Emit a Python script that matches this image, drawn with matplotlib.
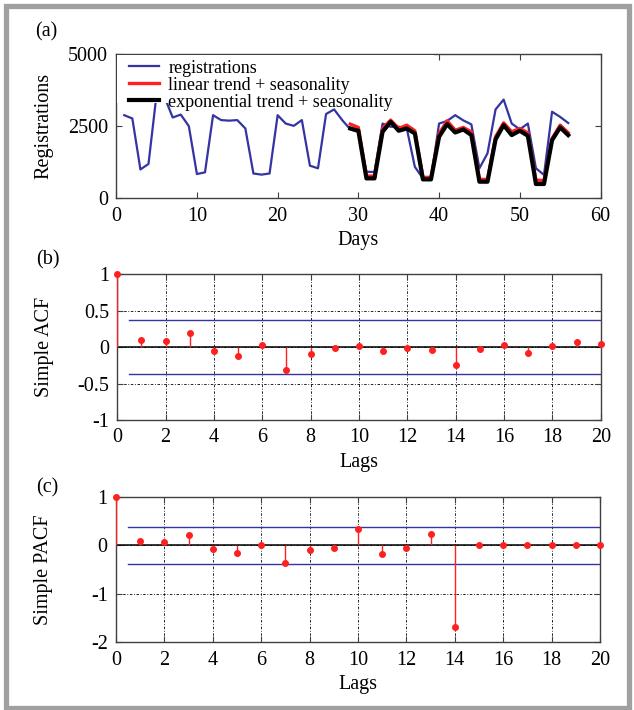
import numpy as np
import matplotlib
matplotlib.use("Agg")
import matplotlib.pyplot as plt
from matplotlib.patches import Rectangle

plt.rcParams['font.family'] = ['Liberation Serif', 'DejaVu Serif']
plt.rcParams['axes.unicode_minus'] = False

# ---------------- data ----------------
days = np.arange(1, 57)
registrations = [2880, 2765, 1000, 1190, 3600, 3500, 2800, 2900, 2500, 840,
                 900, 2880, 2710, 2690, 2710, 2420, 860, 820, 860, 2880,
                 2590, 2510, 2710, 1130, 1040, 2920, 3080, 2710, 2390, 2300,
                 920, 910, 2590, 2480, 2480, 2420, 1090, 690, 690, 2590,
                 2680, 2880, 2700, 2560, 1040, 1560, 3080, 3420, 2590, 2390,
                 2590, 1040, 810, 3000, 2820, 2610]
fc_days = np.arange(29, 57)
linear_fc = [2570, 2455, 770, 770, 2420, 2710, 2420, 2535, 2340, 725,
             725, 2245, 2685, 2360, 2455, 2305, 655, 655, 2130, 2615,
             2305, 2420, 2270, 635, 610, 2075, 2535, 2270]
exp_fc = [2420, 2340, 690, 690, 2305, 2650, 2340, 2420, 2245, 655,
          655, 2130, 2570, 2280, 2385, 2190, 575, 575, 2040, 2535,
          2190, 2340, 2165, 495, 495, 2015, 2455, 2190]

lags = np.arange(0, 21)
acf_vals = [1.0, 0.096, 0.078, 0.19, -0.05, -0.124, 0.032, -0.316, -0.096, -0.009,
            0.014, -0.05, -0.009, -0.04, -0.247, -0.032, 0.023, -0.078, 0.009, 0.069, 0.037]
pacf_vals = [1.0, 0.096, 0.075, 0.21, -0.082, -0.164, 0.014, -0.363, -0.089, -0.048,
             0.336, -0.171, -0.048, 0.226, -1.685, 0.007, 0.005, 0.005, 0.005, 0.005, 0.005]
acf_bound = 0.375
pacf_bound = 0.383

legend_labels = ['registrations', 'linear trend + seasonality',
                 'exponential trend + seasonality']

# ---------------- style ----------------
FS = 14.5
LEG_FS = 13
BLUE = '#3434a2'
RED = '#ff2020'
SPINE = '#404040'
W, H = 634, 710

fig = plt.figure(figsize=(W / 100, H / 100), dpi=100)

# figure border
fig.patches.append(Rectangle((5.5 / W, 2 / H), (628.5 - 5.5) / W, (704 - 2) / H,
                             transform=fig.transFigure, fill=False,
                             edgecolor='#a0a0a0', linewidth=3.8, zorder=0))


def ax_rect(left, top, right, bottom):
    return [left / W, 1 - bottom / H, (right - left) / W, (bottom - top) / H]


def style_axes(ax):
    for s in ax.spines.values():
        s.set_color(SPINE)
        s.set_linewidth(1.0)
    ax.tick_params(direction='in', length=4, width=0.8, color=SPINE,
                   top=True, right=True, labelsize=FS, pad=6)


# ---------- panel (a) ----------
axa = fig.add_axes(ax_rect(116.2, 54, 600.5, 198.3))
style_axes(axa)
l1, = axa.plot(days, registrations, color=BLUE, lw=1.6, zorder=2)
l2, = axa.plot(fc_days, linear_fc, color=RED, lw=2.4, zorder=2.2)
l3, = axa.plot(fc_days, exp_fc, color='black', lw=3.0, zorder=2.4)
axa.set_xlim(0, 60)
axa.set_ylim(0, 5000)
axa.set_xticks([0, 10, 20, 30, 40, 50, 60])
axa.set_yticks([0, 2500, 5000])
axa.set_xlabel('Days', fontsize=FS, labelpad=4)
axa.set_ylabel('Registrations', fontsize=FS, labelpad=6)
axa.add_patch(Rectangle((0.002, 0.66), 0.655, 0.336, transform=axa.transAxes,
                        facecolor='white', edgecolor='none', zorder=3))
leg = axa.legend([l1, l2, l3], legend_labels, loc='upper left',
                 bbox_to_anchor=(0.020, 0.985), frameon=False, fontsize=LEG_FS,
                 handlelength=1.65, handletextpad=0.5, labelspacing=0.0,
                 borderpad=0.2, borderaxespad=0)
leg.set_zorder(5)
fig.text(35 / W, 1 - 32 / H, '(a)', fontsize=FS, va='center', ha='left')

# ---------- panel (b) ----------
axb = fig.add_axes(ax_rect(117.3, 274.3, 600.7, 420))
style_axes(axb)
axb.set_xlim(0, 20)
axb.set_ylim(-1, 1)
axb.set_xticks(np.arange(0, 21, 2))
axb.set_yticks([-1, -0.5, 0, 0.5, 1])
axb.set_yticklabels(['-1', '-0.5', '0', '0.5', '1'])
axb.grid(True, color='black', linestyle=(0, (3, 2, 1, 2)), linewidth=0.6)
axb.axhline(0, color='black', lw=1.1, zorder=2)
axb.plot([0.5, 20], [acf_bound, acf_bound], color=BLUE, lw=1.0, zorder=2)
axb.plot([0.5, 20], [-acf_bound, -acf_bound], color=BLUE, lw=1.0, zorder=2)
axb.vlines(lags, 0, acf_vals, color=RED, lw=1.0, zorder=3)
axb.plot(lags, acf_vals, 'o', color=RED, ms=4, zorder=4, clip_on=False)
axb.set_xlabel('Lags', fontsize=FS, labelpad=4)
axb.set_ylabel('Simple ACF', fontsize=FS, labelpad=8)
fig.text(36 / W, 1 - 260 / H, '(b)', fontsize=FS, va='center', ha='left')

# ---------- panel (c) ----------
axc = fig.add_axes(ax_rect(116, 497, 600, 642.3))
style_axes(axc)
axc.set_xlim(0, 20)
axc.set_ylim(-2, 1)
axc.set_xticks(np.arange(0, 21, 2))
axc.set_yticks([-2, -1, 0, 1])
axc.set_yticklabels(['-2', '-1', '0', '1'])
axc.grid(True, color='black', linestyle=(0, (3, 2, 1, 2)), linewidth=0.6)
axc.axhline(0, color='black', lw=1.1, zorder=2)
axc.plot([0.5, 20], [pacf_bound, pacf_bound], color=BLUE, lw=1.0, zorder=2)
axc.plot([0.5, 20], [-pacf_bound, -pacf_bound], color=BLUE, lw=1.0, zorder=2)
axc.vlines(lags, 0, pacf_vals, color=RED, lw=1.0, zorder=3)
axc.plot(lags, pacf_vals, 'o', color=RED, ms=4, zorder=4, clip_on=False)
axc.set_xlabel('Lags', fontsize=FS, labelpad=4)
axc.set_ylabel('Simple PACF', fontsize=FS, labelpad=8)
fig.text(36 / W, 1 - 488 / H, '(c)', fontsize=FS, va='center', ha='left')

for ax in (axa, axb, axc):
    ax.yaxis.set_label_coords(-0.13, 0.5)

fig.savefig('out.png', dpi=100, facecolor='white')
